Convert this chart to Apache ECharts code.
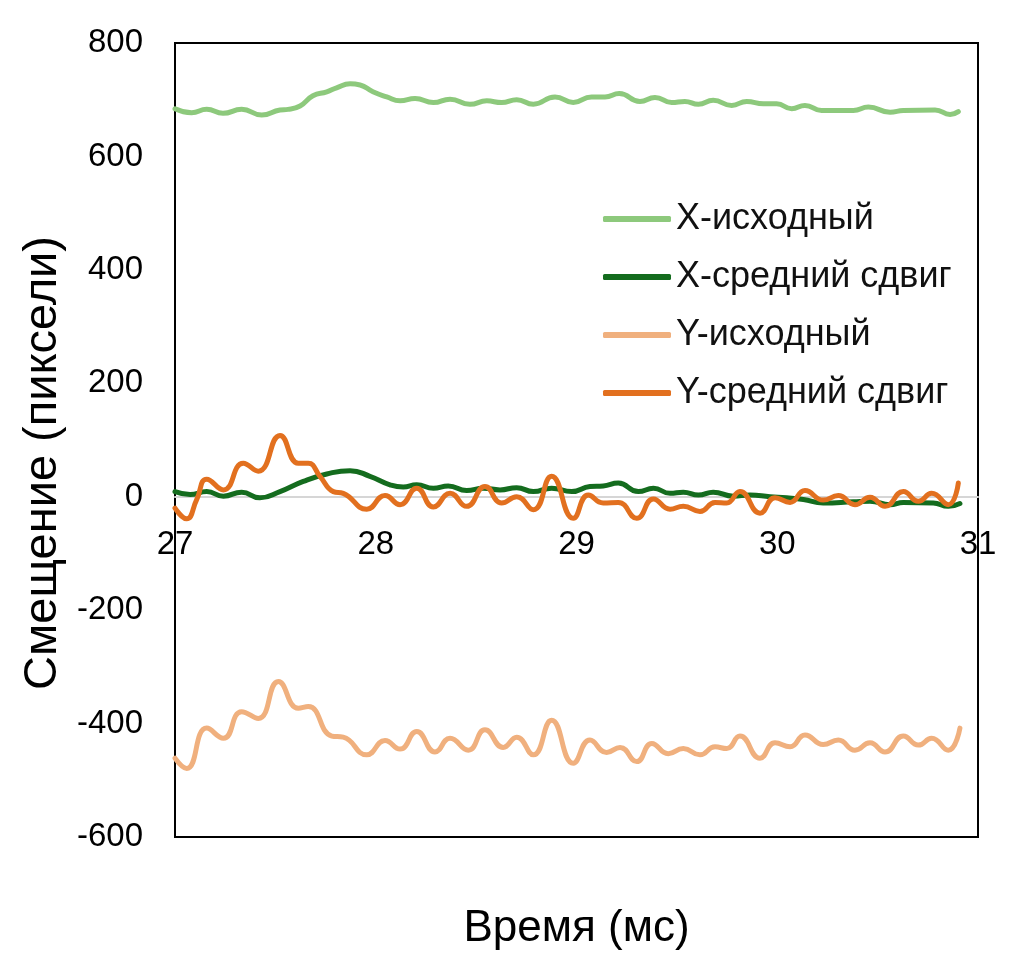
<!DOCTYPE html>
<html>
<head>
<meta charset="utf-8">
<script src="https://cdn.jsdelivr.net/npm/echarts@6/dist/echarts.min.js"></script>
<style>html,body{margin:0;padding:0;background:#fff}#c{width:1024px;height:964px}</style>
</head>
<body>
<div id="c"></div>
<script>
// Series names
var seriesNames = ['X-исходный', 'X-средний сдвиг', 'Y-исходный', 'Y-средний сдвиг'];
// Axis ticks
var xTicks = [27, 28, 29, 30, 31];
var yTicks = [-600, -400, -200, 0, 200, 400, 600, 800];

// X-исходный: [time ms, pixels]
var xRaw = [[27.000,684],[27.083,677],[27.158,683],[27.239,676],[27.332,683],[27.432,673],[27.523,682],[27.563,683],[27.623,689],[27.687,707],[27.756,714],[27.805,721],[27.872,728],[27.922,726],[27.986,714],[28.055,705],[28.121,698],[28.196,702],[28.287,695],[28.370,701],[28.469,692],[28.553,698],[28.627,695],[28.702,700],[28.785,692],[28.893,705],[28.984,695],[29.075,705],[29.142,705],[29.213,711],[29.316,697],[29.391,704],[29.474,695],[29.540,697],[29.607,692],[29.681,699],[29.773,690],[29.848,697],[29.931,693],[29.997,693],[30.072,684],[30.138,690],[30.221,681],[30.379,681],[30.454,687],[30.562,678],[30.628,681],[30.786,682],[30.861,674],[30.902,679]];

// X-средний сдвиг
var xMean = [[27.000,9],[27.075,4],[27.158,9],[27.241,1],[27.332,8],[27.423,-2],[27.523,9],[27.639,27],[27.756,40],[27.872,46],[27.971,36],[28.071,21],[28.137,17],[28.204,21],[28.287,15],[28.361,19],[28.453,11],[28.536,15],[28.619,12],[28.702,16],[28.785,9],[28.876,15],[28.976,9],[29.067,18],[29.133,19],[29.208,24],[29.308,9],[29.383,15],[29.466,6],[29.532,8],[29.607,3],[29.681,8],[29.781,1],[29.864,3],[29.964,0],[30.047,-2],[30.130,-5],[30.229,-11],[30.379,-9],[30.462,-8],[30.562,-14],[30.628,-10],[30.777,-11],[30.852,-17],[30.910,-12]];

// Y-исходный
var yRaw = [[27.000,-461],[27.058,-479],[27.158,-408],[27.241,-426],[27.332,-379],[27.415,-391],[27.515,-326],[27.614,-373],[27.664,-370],[27.781,-422],[27.838,-424],[27.955,-455],[28.046,-430],[28.121,-445],[28.204,-414],[28.295,-450],[28.370,-426],[28.461,-447],[28.544,-411],[28.635,-442],[28.702,-424],[28.785,-455],[28.876,-394],[28.984,-470],[29.067,-429],[29.150,-451],[29.217,-442],[29.300,-467],[29.375,-435],[29.457,-453],[29.532,-444],[29.615,-455],[29.690,-441],[29.748,-444],[29.814,-422],[29.914,-461],[29.989,-434],[30.064,-441],[30.138,-420],[30.229,-437],[30.304,-429],[30.387,-447],[30.462,-434],[30.537,-450],[30.628,-422],[30.703,-438],[30.769,-426],[30.852,-447],[30.910,-408]];

// Y-средний сдвиг
var yMean = [[27.000,-20],[27.058,-39],[27.108,-5],[27.158,31],[27.241,12],[27.340,59],[27.415,45],[27.523,108],[27.614,59],[27.664,59],[27.722,36],[27.789,9],[27.838,6],[27.955,-22],[28.046,2],[28.121,-14],[28.204,15],[28.287,-18],[28.370,6],[28.453,-17],[28.544,18],[28.627,-11],[28.702,0],[28.785,-23],[28.876,36],[28.984,-38],[29.059,3],[29.133,-11],[29.208,-10],[29.300,-38],[29.383,-4],[29.466,-22],[29.532,-17],[29.615,-26],[29.690,-10],[29.748,-11],[29.814,9],[29.914,-29],[29.989,-2],[30.064,-10],[30.138,11],[30.229,-6],[30.304,2],[30.387,-14],[30.462,-1],[30.537,-17],[30.628,9],[30.703,-8],[30.769,6],[30.852,-14],[30.902,24]];

var colors = ['#8DC97C', '#146C1E', '#F0B07E', '#E2701F'];
var FONT = '"Liberation Sans", Arial, Helvetica, sans-serif';

var GRID_TOP = 43, GRID_H = 794;
var yMin = yTicks[0], yMax = yTicks[yTicks.length - 1];
// distance (px) from grid bottom up to the value-0 line, so the tick-label axis sits on zero
var zeroOffset = -GRID_H * (0 - yMin) / (yMax - yMin);

var chart = echarts.init(document.getElementById('c'), null, {renderer: 'canvas'});
function mk(i, data) {
  return {
    name: seriesNames[i], type: 'line', data: data, smooth: 0.5,
    showSymbol: false, symbol: 'none', xAxisIndex: 0, yAxisIndex: 0,
    lineStyle: {color: colors[i], width: 5, cap: 'round', join: 'round'},
    itemStyle: {color: colors[i]}, animation: false, z: 2 + i
  };
}
chart.setOption({
  animation: false,
  backgroundColor: '#fff',
  textStyle: {fontFamily: FONT},
  grid: {left: 175, top: GRID_TOP, width: 803, height: GRID_H, show: true, borderColor: '#000', borderWidth: 2, backgroundColor: 'transparent'},
  legend: {
    orient: 'vertical', left: 598, top: 196, itemWidth: 68, itemHeight: 6, itemGap: 22,
    icon: 'roundRect',
    textStyle: {fontSize: 36, color: '#111', fontFamily: FONT},
    data: seriesNames
  },
  xAxis: [{
    type: 'value', min: xTicks[0], max: xTicks[xTicks.length - 1], interval: 1,
    position: 'bottom', offset: zeroOffset,
    axisLine: {show: true, onZero: false, lineStyle: {color: '#d6d6d6', width: 2}},
    axisTick: {show: false}, splitLine: {show: false},
    axisLabel: {fontSize: 33, color: '#000', margin: 32, fontFamily: FONT}
  }, {
    type: 'value', min: xTicks[0], max: xTicks[xTicks.length - 1], position: 'bottom', offset: 0,
    axisLine: {show: false, onZero: false}, axisTick: {show: false}, axisLabel: {show: false}, splitLine: {show: false},
    name: 'Время (мс)', nameLocation: 'middle', nameGap: 70,
    nameTextStyle: {fontSize: 44, color: '#000', fontFamily: FONT}
  }],
  yAxis: {
    type: 'value', min: yMin, max: yMax, interval: 200,
    axisLine: {show: true, onZero: false, lineStyle: {color: '#000', width: 2}},
    axisTick: {show: false}, splitLine: {show: false},
    axisLabel: {fontSize: 33, color: '#000', margin: 32, fontFamily: FONT},
    name: 'Смещение (пиксели)', nameLocation: 'middle', nameGap: 104,
    nameTextStyle: {fontSize: 47, color: '#000', fontFamily: FONT, padding: [0, 46, 0, 0]}
  },
  series: [mk(0, xRaw), mk(1, xMean), mk(2, yRaw), mk(3, yMean)]
});
</script>
</body>
</html>
